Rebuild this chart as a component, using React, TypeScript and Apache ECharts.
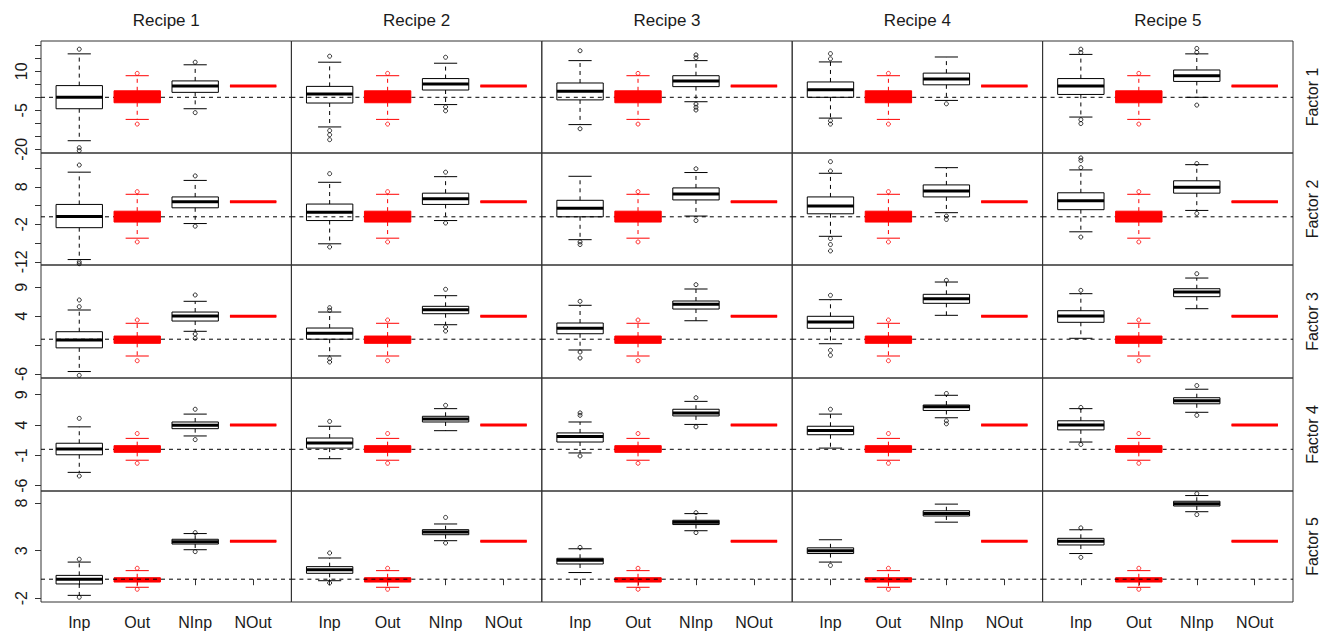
import React, { useEffect, useRef } from "react";
import * as echarts from "echarts";

const recipes = ["Recipe 1", "Recipe 2", "Recipe 3", "Recipe 4", "Recipe 5"];
const factors = ["Factor 1", "Factor 2", "Factor 3", "Factor 4", "Factor 5"];
const groups = ["Inp", "Out", "NInp", "NOut"];

// [low whisker, Q1, median, Q3, high whisker] per factor (row) and recipe (column)
const inpStats = [
  [[-16.7, -4.4, 0, 4.5, 16.7], [-11.4, -2.2, 1.3, 4.2, 13.5], [-10.5, -1.0, 2.3, 5.5, 14.1], [-8.0, 0, 2.9, 5.9, 13.6], [-7.6, 1.1, 4.3, 7.2, 16.5]],
  [[-11.4, -2.9, 0.1, 3.3, 11.9], [-7.2, -1.0, 1.2, 3.4, 9.2], [-6.1, 0, 2.3, 4.4, 10.8], [-5.2, 0.8, 2.9, 5.3, 11.6], [-4.0, 1.9, 4.3, 6.4, 12.5]],
  [[-5.6, -1.5, -0.14, 1.3, 5.06], [-2.9, 0, 1.02, 1.94, 4.71], [-1.87, 0.95, 1.89, 2.81, 5.88], [-0.78, 1.89, 2.98, 3.97, 6.85], [0.16, 2.93, 4.02, 4.94, 7.89]],
  [[-3.8, -0.9, 0.05, 1.0, 3.7], [-1.55, 0.2, 1.04, 1.86, 3.8], [-0.6, 1.2, 2.1, 2.7, 4.5], [0.2, 2.4, 3.1, 3.8, 5.8], [1.2, 3.2, 4.0, 4.7, 6.7]],
  [[-1.7, -0.5, 0, 0.4, 1.8], [-0.16, 0.62, 1.0, 1.32, 2.23], [0.7, 1.6, 2.0, 2.2, 3.2], [1.8, 2.7, 3.0, 3.3, 4.15], [2.7, 3.6, 4.0, 4.3, 5.2]],
];
const inpOutliers = [
  [[18.5, -19.4, -20.5], [15.8, -12.8, -14.4, -16.3], [17.9, -12.1], [16.8, 14.8, -9.0, -10.3], [18.5, 17.2, -8.6, -10.1]],
  [[13.8, -12.0, -12.5], [11.5, -8.05], [-6.7, -7.4], [14.7, 12.2, -5.8, -7.4, -9.1], [15.7, 15.0, 13.1, -5.4]],
  [[6.8, 5.63, -6.26], [5.46, 5.0, -3.38, -3.95], [6.57, -2.22, -3.26], [7.61, -1.92, -2.79], [8.47]],
  [[5.1, -4.4], [4.6], [6.0, 5.6, -1.1], [6.6], [6.9, 0.8]],
  [[2.1, -1.9], [2.76, -0.4], [3.35], [1.45], [5.4, 2.3]],
];
const nInpStats = [
  [[-4.4, 1.9, 4.3, 6.3, 12.5], [-2.8, 2.8, 5.1, 7.2, 13.1], [-1.7, 4.1, 6.3, 8.3, 14.1], [-1.2, 4.8, 7.0, 9.3, 15.5], [0, 6.1, 8.3, 10.5, 16.7]],
  [[-1.8, 2.4, 4.0, 5.3, 9.7], [-1.0, 3.3, 4.8, 6.3, 10.7], [0.2, 4.5, 6.1, 7.7, 11.8], [1.1, 5.3, 6.9, 8.5, 13.1], [1.7, 6.3, 7.9, 9.6, 13.9]],
  [[1.37, 3.15, 4.02, 4.71, 6.57], [2.51, 4.42, 5.11, 5.7, 7.54], [3.2, 5.23, 6.05, 6.62, 8.7], [4.14, 6.22, 7.02, 7.78, 9.91], [5.29, 7.37, 8.18, 8.75, 10.6]],
  [[2.2, 3.4, 3.95, 4.5, 5.8], [3.07, 4.5, 4.99, 5.44, 6.7], [4.1, 5.5, 6.0, 6.6, 7.9], [5.2, 6.4, 7.0, 7.3, 8.9], [6.1, 7.5, 8.0, 8.5, 9.9]],
  [[3.1, 3.7, 3.95, 4.2, 4.8], [4.05, 4.68, 4.97, 5.21, 5.81], [5.1, 5.75, 6.0, 6.2, 6.9], [6.0, 6.65, 6.9, 7.2, 7.9], [7.1, 7.7, 7.95, 8.2, 8.8]],
];
const nInpOutliers = [
  [[13.5, -5.9], [15.4, -3.7, -5.2], [16.3, 15.2, -2.6, -3.8, -4.9], [-2.5], [18.8, 17.3, -3.0]],
  [[10.9, -2.5], [11.9, -1.65], [12.8, -1.0], [0.2, -0.7], [14.2, 0.9]],
  [[7.66, 0.9, 0.16], [8.65, 2.11, 1.42], [9.45], [10.2], [11.35]],
  [[6.6, 1.6], [7.25], [8.5, 3.7], [9.2, 4.7, 4.2], [10.5, 5.6]],
  [[4.9, 2.9], [6.5, 3.81], [7.0, 4.9], [], [9.0, 6.8]],
];
// Out is the same for every recipe of a factor
const outStats = [
  [-8.5, -2.1, 0, 2.5, 8.3],
  [-5.7, -1.4, 0, 1.5, 6.0],
  [-2.91, -0.71, 0, 0.55, 2.76],
  [-1.8, -0.5, 0, 0.6, 1.8],
  [-0.85, -0.3, 0, 0.15, 0.9],
];
const outOutliers = [[9.2, -10.3], [6.7, -6.7], [3.33, -3.73], [2.6, -2.3], [1.15, -1.06]];
const nOutValues = [4.3, 4.0, 4.0, 4.0, 4.0];

const yMin = [-21.42, -12.85, -6.72, -6.87, -2.4];
const yMax = [21.65, 17.01, 12.86, 11.75, 9.28];
const yTicks = [
  [-20, -15, -10, -5, 0, 5, 10, 15, 20],
  [-12, -7, -2, 3, 8, 13],
  [-6, -1, 4, 9],
  [-6, -1, 4, 9],
  [-2, 3, 8],
];
const yLabels = [[-20, -5, 10], [-12, -2, 8], [-6, 4, 9], [-6, -1, 4, 9], [-2, 3, 8]];
const xPositions = [1, 2, 3, 4];

// layout
const LEFT = 41;
const COLW = 250.4;
const TOPS = [41, 153, 265, 378, 491];
const HEIGHTS = [112, 112, 113, 113, 111];
const X_MIN = 0.34;
const X_MAX = 4.66;
const FONT = "'Liberation Sans', Arial, sans-serif";
const TEXT = "#1a1a1a";

function renderBox(params: any, api: any) {
  const x = api.value(0);
  const lo = api.value(1);
  const q1 = api.value(2);
  const md = api.value(3);
  const q3 = api.value(4);
  const hi = api.value(5);
  const kind = api.value(6);
  const color = kind === 1 ? "#ff0000" : "#000000";
  const hw = api.size([0.4, 0])[0];
  const cw = api.size([0.2, 0])[0];
  const pLo = api.coord([x, lo]);
  const pQ1 = api.coord([x, q1]);
  const pMd = api.coord([x, md]);
  const pQ3 = api.coord([x, q3]);
  const pHi = api.coord([x, hi]);
  const cx = pMd[0];
  const dash = { stroke: color, lineWidth: 1, lineDash: [4, 4] };
  const solid = { stroke: color, lineWidth: 1 };
  return {
    type: "group",
    children: [
      { type: "line", shape: { x1: cx, y1: pQ3[1], x2: cx, y2: pHi[1] }, style: dash },
      { type: "line", shape: { x1: cx, y1: pQ1[1], x2: cx, y2: pLo[1] }, style: dash },
      { type: "line", shape: { x1: cx - cw, y1: pHi[1], x2: cx + cw, y2: pHi[1] }, style: solid },
      { type: "line", shape: { x1: cx - cw, y1: pLo[1], x2: cx + cw, y2: pLo[1] }, style: solid },
      {
        type: "rect",
        shape: { x: cx - hw, y: pQ3[1], width: 2 * hw, height: pQ1[1] - pQ3[1] },
        style: { fill: kind === 1 ? color : "none", stroke: color, lineWidth: 1 },
      },
      { type: "line", shape: { x1: cx - hw, y1: pMd[1], x2: cx + hw, y2: pMd[1] }, style: { stroke: color, lineWidth: 3 } },
    ],
  };
}

function buildOption() {
  const grid: any[] = [];
  const xAxis: any[] = [];
  const yAxis: any[] = [];
  const series: any[] = [];
  const graphic: any[] = [];

  for (let r = 0; r < 5; r++) {
    for (let c = 0; c < 5; c++) {
      const i = r * 5 + c;
      grid.push({
        left: LEFT + c * COLW,
        top: TOPS[r],
        width: COLW,
        height: HEIGHTS[r],
        show: true,
        borderColor: "#333",
        borderWidth: 1,
        backgroundColor: "transparent",
      });
      xAxis.push({
        type: "value",
        gridIndex: i,
        min: X_MIN,
        max: X_MAX,
        show: r === 4,
        axisLine: { show: false },
        splitLine: { show: false },
        axisTick: { show: true, customValues: xPositions, length: 6, lineStyle: { color: "#333" } },
        axisLabel: {
          customValues: xPositions,
          formatter: (v: number) => groups[Math.round(v) - 1] || "",
          fontSize: 16,
          color: TEXT,
          fontFamily: FONT,
          margin: 12,
        },
      });
      yAxis.push({
        type: "value",
        gridIndex: i,
        min: yMin[r],
        max: yMax[r],
        show: c === 0,
        axisLine: { show: false },
        splitLine: { show: false },
        axisTick: { show: true, customValues: yTicks[r], length: 6, lineStyle: { color: "#333" } },
        axisLabel: {
          customValues: yLabels[r],
          rotate: 90,
          fontSize: 16,
          color: TEXT,
          fontFamily: FONT,
          margin: 12,
        },
      });

      series.push({
        type: "line",
        xAxisIndex: i,
        yAxisIndex: i,
        data: [[X_MIN, 0], [X_MAX, 0]],
        symbol: "none",
        silent: true,
        z: r === 4 ? 5 : 1,
        lineStyle: { type: [4, 4], width: 1, color: "#000" },
      });

      const nOut = nOutValues[r];
      series.push({
        type: "custom",
        xAxisIndex: i,
        yAxisIndex: i,
        z: 2,
        silent: true,
        renderItem: renderBox,
        data: [
          [xPositions[0], ...inpStats[r][c], 0],
          [xPositions[1], ...outStats[r], 1],
          [xPositions[2], ...nInpStats[r][c], 0],
          [xPositions[3], nOut, nOut, nOut, nOut, nOut, 1],
        ],
      });

      series.push({
        type: "scatter",
        xAxisIndex: i,
        yAxisIndex: i,
        z: 3,
        silent: true,
        symbol: "circle",
        symbolSize: 4,
        itemStyle: { color: "rgba(0,0,0,0)", borderColor: "#000", borderWidth: 1 },
        data: [
          ...inpOutliers[r][c].map((v) => [xPositions[0], v]),
          ...nInpOutliers[r][c].map((v) => [xPositions[2], v]),
        ],
      });
      series.push({
        type: "scatter",
        xAxisIndex: i,
        yAxisIndex: i,
        z: 3,
        silent: true,
        symbol: "circle",
        symbolSize: 4,
        itemStyle: { color: "rgba(0,0,0,0)", borderColor: "#ff0000", borderWidth: 1 },
        data: outOutliers[r].map((v) => [xPositions[1], v]),
      });
    }
  }

  recipes.forEach((name, c) => {
    graphic.push({
      type: "text",
      x: LEFT + c * COLW + COLW / 2,
      y: 20,
      style: { text: name, fontSize: 17, fill: TEXT, fontFamily: FONT, align: "center", verticalAlign: "middle" },
    });
  });
  factors.forEach((name, r) => {
    graphic.push({
      type: "text",
      x: 1312,
      y: TOPS[r] + HEIGHTS[r] / 2,
      rotation: Math.PI / 2,
      style: { text: name, fontSize: 16, fill: TEXT, fontFamily: FONT, align: "center", verticalAlign: "middle" },
    });
  });

  return {
    animation: false,
    backgroundColor: "#ffffff",
    grid,
    xAxis,
    yAxis,
    series,
    graphic,
  };
}

export default function App() {
  const ref = useRef<HTMLDivElement>(null);
  useEffect(() => {
    if (!ref.current) return;
    const chart = echarts.init(ref.current, undefined, { renderer: "svg" });
    chart.setOption(buildOption() as any);
    return () => chart.dispose();
  }, []);
  return (
    <div
      ref={ref}
      style={{ position: "absolute", left: 0, top: 0, width: 1332, height: 635, background: "#fff" }}
    />
  );
}
